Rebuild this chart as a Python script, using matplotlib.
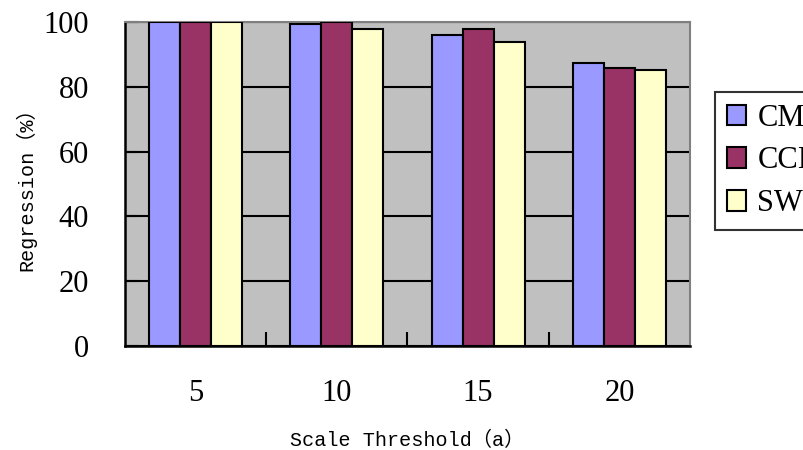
import numpy as np
import matplotlib.pyplot as plt

categories = ['5', '10', '15', '20']
series_names = ['CMC', 'CCI', 'SW']
cmc = [100, 99.3, 96.0, 87.2]
cci = [100, 100, 97.8, 85.8]
sw = [100, 97.8, 93.8, 85.1]
yticks = [0, 20, 40, 60, 80, 100]

colors = ['#9999FF', '#993366', '#FFFFCC']

fig = plt.figure(figsize=(8.04, 4.5), dpi=100)
ax = fig.add_axes([125/804, 1-346/450, 565/804, 324/450])
ax.set_facecolor('#C0C0C0')

x = np.arange(len(categories))
w = 0.22
for i, vals in enumerate([cmc, cci, sw]):
    ax.bar(x + (i-1)*w, vals, w, color=colors[i], edgecolor='black',
           linewidth=1.5, label=series_names[i], zorder=3)

ax.set_xlim(-0.5, len(categories)-0.5)
ax.set_ylim(0, 100)
ax.set_yticks(yticks)
ax.yaxis.grid(True, color='black', linewidth=1.5, zorder=1)
ax.set_axisbelow(True)

# category labels in the middle, small tick marks at the boundaries
ax.set_xticks(x)
ax.set_xticklabels(categories)
ax.set_xticks(np.arange(0.5, len(categories)-0.5, 1), minor=True)
ax.tick_params(axis='x', which='major', length=0, pad=24)
ax.tick_params(axis='x', which='minor', direction='in', length=10, width=1.5)
ax.tick_params(axis='y', direction='in', length=10, width=1.5, pad=26)
for lbl in ax.get_xticklabels() + ax.get_yticklabels():
    lbl.set_family('Liberation Serif')
    lbl.set_fontsize(22)

for s in ['left', 'bottom']:
    ax.spines[s].set_color('black')
    ax.spines[s].set_linewidth(1.8)
for s in ['top', 'right']:
    ax.spines[s].set_color('#808080')
    ax.spines[s].set_linewidth(1.5)

lab_font = ['Liberation Mono', 'Noto Sans CJK SC']
ax.set_xlabel('Scale Threshold（a）', family=lab_font, fontsize=14.5, labelpad=16)
ax.set_ylabel('Regression（%）', family=lab_font, fontsize=14.5, labelpad=5)

leg = fig.legend(loc='upper left', bbox_to_anchor=(715/804, 1-92/450),
                 borderaxespad=0,
                 prop={'family': 'Liberation Serif', 'size': 22},
                 frameon=True, fancybox=False, edgecolor='black',
                 handlelength=0.65, handleheight=0.65, handletextpad=0.36,
                 labelspacing=0.45, borderpad=0.38)
leg.get_frame().set_linewidth(1.5)

fig.savefig('out.png', dpi=100)
